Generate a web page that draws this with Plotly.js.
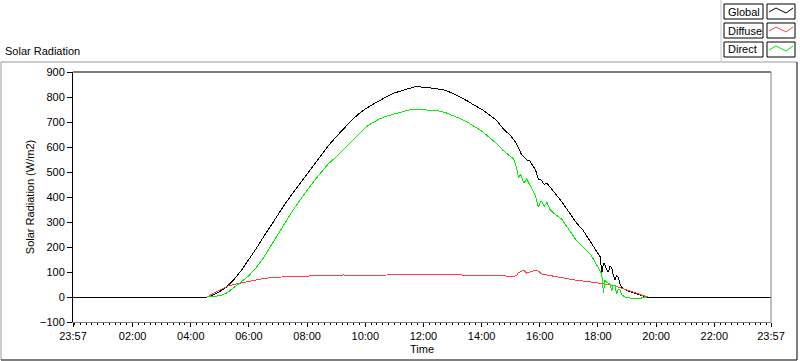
<!DOCTYPE html>
<html>
<head>
<meta charset="utf-8">
<script src="https://cdn.plot.ly/plotly-3.0.1.min.js"></script>
<style>
  html, body { margin: 0; padding: 0; background: #ffffff; }
  #chart { width: 800px; height: 361px; }
  #chart .scatterlayer path.js-line { shape-rendering: crispEdges; }
</style>
</head>
<body>
<div id="chart"></div>
<script>
// ---- Data (time in decimal hours; 23:57 of previous day = -0.05) ----
const globalTimes = [-0.05, 4.55];
const dayTimes = [4.55, 4.75, 5.0, 5.25, 5.5, 5.75, 6.0, 6.25, 6.5, 6.75, 7.0, 7.25, 7.5, 7.75,
  8.0, 8.25, 8.5, 8.75, 9.0, 9.25, 9.5, 9.75, 10.0, 10.25, 10.5, 10.75, 11.0, 11.25, 11.5, 11.75,
  12.0, 12.25, 12.5, 12.75, 13.0, 13.25, 13.5, 13.75, 14.0, 14.25, 14.5, 14.75, 15.0,
  15.1, 15.2, 15.27, 15.35, 15.45, 15.55, 15.65, 15.75, 15.85, 15.95, 16.05, 16.15, 16.25, 16.35,
  16.5, 16.75, 17.0, 17.25, 17.5, 17.75, 18.0, 18.08, 18.13, 18.19, 18.24, 18.3, 18.36, 18.41,
  18.47, 18.53, 18.59, 18.64, 18.7, 18.76, 18.81, 18.87, 18.95, 19.1, 19.3, 19.5, 19.7];
const nightEndTimes = [19.7, 23.95];

const globalDay = [0, 8, 22, 42, 72, 108, 150, 194, 240, 286, 331, 374, 414, 453,
  490, 527, 568, 608, 641, 673, 703, 730, 752, 770, 787, 802, 816, 826, 834, 842,
  840, 836, 832, 827, 815, 801, 785, 767, 751, 730, 708, 672, 645,
  630, 613, 595, 575, 560, 548, 545, 528, 510, 470, 468, 450, 455, 440,
  418, 382, 340, 298, 265, 222, 178, 160, 95, 135, 130, 110, 100, 122,
  118, 85, 68, 85, 80, 50, 40, 35, 28, 22, 13, 6, 0];
const diffuseDay = [0, 12, 30, 43, 51, 57, 63, 69, 74, 77, 80, 81, 82, 83,
  84, 85, 86, 87, 87, 88, 85, 84, 85, 87, 87, 88, 89, 89, 90, 90,
  91, 90, 89, 88, 89, 88, 87, 87, 87, 86, 85, 84, 84,
  83, 86, 98, 102, 108, 95, 100, 102, 108, 104, 93, 90, 88, 86,
  83, 78, 70, 67, 64, 61, 57, 55, 54, 53, 52, 50, 49, 48,
  47, 46, 44, 42, 40, 37, 35, 33, 29, 24, 16, 7, 0];
const directDay = [0, 1, 5, 17, 38, 62, 86, 118, 157, 205, 251, 298, 345, 387,
  427, 466, 501, 535, 560, 590, 620, 650, 678, 697, 713, 724, 731, 741, 748, 751,
  750, 749, 745, 738, 727, 714, 700, 683, 664, 640, 615, 585, 562,
  552, 520, 478, 490, 455, 472, 450, 430, 405, 360, 385, 362, 378, 350,
  333, 312, 272, 228, 198, 170, 120, 100, 93, 15, 68, 58, 55, 52,
  25, 48, 45, 12, 30, 28, 10, 5, -2, -4, -4, -4, 0];
const nightValues = [0, 0];

const seriesNames = ['Global', 'Diffuse', 'Direct'];
const seriesColors = ['#000000', '#ff4040', '#00ee00'];

const xTickVals = [-0.05, 2, 4, 6, 8, 10, 12, 14, 16, 18, 20, 22, 23.95];
const xTickText = ['23:57', '02:00', '04:00', '06:00', '08:00', '10:00', '12:00', '14:00',
  '16:00', '18:00', '20:00', '22:00', '23:57'];

// ---- Build traces ----
const globalX = globalTimes.concat(dayTimes.slice(1), nightEndTimes.slice(1));
const globalY = nightValues.slice(0, 1).concat(globalDay, nightValues.slice(1));

const traces = [
  { x: globalX, y: globalY, name: seriesNames[0], mode: 'lines',
    line: { color: seriesColors[0], width: 1 } },
  { x: dayTimes, y: diffuseDay, name: seriesNames[1], mode: 'lines',
    line: { color: seriesColors[1], width: 1 } },
  { x: dayTimes, y: directDay, name: seriesNames[2], mode: 'lines',
    line: { color: seriesColors[2], width: 1 } }
];

// ---- Geometry helpers (pixel -> paper) ----
const L = 73, R = 29, T = 72, B = 39, W = 800 - L - R, H = 361 - T - B;
const px = v => (v - L) / W;
const py = v => (T + H - v) / H;

const FONT = 'Liberation Sans, Arial, sans-serif';

const shapes = [
  // outer sunken frame
  { type: 'line', xref: 'paper', yref: 'paper', x0: px(1), x1: px(797), y0: py(62), y1: py(62), line: { color: '#9a9a9a', width: 1 } },
  { type: 'line', xref: 'paper', yref: 'paper', x0: px(1), x1: px(1), y0: py(62), y1: py(360), line: { color: '#9a9a9a', width: 1 } },
  { type: 'line', xref: 'paper', yref: 'paper', x0: px(1), x1: px(797), y0: py(360), y1: py(360), line: { color: '#000000', width: 1 } },
  { type: 'line', xref: 'paper', yref: 'paper', x0: px(797), x1: px(797), y0: py(62), y1: py(360), line: { color: '#000000', width: 1 } },
  // legend panel edge
  { type: 'line', xref: 'paper', yref: 'paper', x0: px(721), x1: px(721), y0: py(0), y1: py(62), line: { color: '#c8c8c8', width: 1 } },
  // plot top (black) and right (gray)
  { type: 'line', xref: 'paper', yref: 'paper', x0: 0, x1: 1, y0: 1, y1: 1, line: { color: '#000000', width: 1 } },
  { type: 'line', xref: 'paper', yref: 'paper', x0: 1, x1: 1, y0: 0, y1: 1, line: { color: '#808080', width: 1 } }
];

const annotations = [];
const rowTops = [4, 23, 42];
seriesNames.forEach((name, i) => {
  const top = rowTops[i], bot = top + 15;
  shapes.push({ type: 'rect', xref: 'paper', yref: 'paper', x0: px(724), x1: px(763), y0: py(bot), y1: py(top),
    line: { color: '#000000', width: 1 }, fillcolor: '#ffffff' });
  shapes.push({ type: 'rect', xref: 'paper', yref: 'paper', x0: px(767), x1: px(795), y0: py(bot), y1: py(top),
    line: { color: '#000000', width: 1 }, fillcolor: '#ffffff' });
  // small zigzag sample line
  const pts = [[769, top + 8], [776, top + 4], [786, top + 9], [793, top + 4]];
  const path = 'M ' + pts.map(p => px(p[0]) + ',' + py(p[1])).join(' L ');
  shapes.push({ type: 'path', xref: 'paper', yref: 'paper', path: path,
    line: { color: seriesColors[i], width: 1 } });
  annotations.push({ xref: 'paper', yref: 'paper', x: px(726), y: py(top + 7.5), xanchor: 'left', yanchor: 'middle',
    text: name, showarrow: false, font: { family: FONT, size: 11, color: '#000000' } });
});

const layout = {
  width: 800, height: 361,
  margin: { l: L, r: R, t: T, b: B, pad: 0 },
  paper_bgcolor: '#ffffff', plot_bgcolor: '#ffffff',
  showlegend: false,
  font: { family: FONT, size: 11, color: '#000000' },
  title: { text: 'Solar Radiation', x: 5 / 800, xref: 'container', xanchor: 'left',
    y: 1 - 51 / 361, yref: 'container', yanchor: 'middle', font: { family: FONT, size: 11, color: '#000000' } },
  xaxis: {
    range: [-0.05, 23.95], tickmode: 'array', tickvals: xTickVals, ticktext: xTickText,
    ticks: 'outside', ticklen: 4, tickcolor: '#000000', tickwidth: 1,
    showline: true, linecolor: '#808080', linewidth: 1, showgrid: false, zeroline: false,
    minor: { dtick: 0.2, tick0: 0, ticks: 'outside', ticklen: 2, tickcolor: '#000000', showgrid: false },
    tickfont: { family: FONT, size: 11, color: '#000000' },
    title: { text: 'Time', standoff: 4, font: { family: FONT, size: 11, color: '#000000' } },
    automargin: false, fixedrange: true
  },
  yaxis: {
    range: [-100, 900], dtick: 100, tick0: 0,
    ticks: 'outside', ticklen: 5, tickcolor: '#000000', tickwidth: 1,
    showline: true, linecolor: '#000000', linewidth: 1, showgrid: false, zeroline: false,
    tickfont: { family: FONT, size: 11, color: '#000000' },
    title: { text: 'Solar Radiation (W/m2)', standoff: 3, font: { family: FONT, size: 11, color: '#000000' } },
    automargin: false, fixedrange: true
  },
  shapes: shapes,
  annotations: annotations
};

Plotly.newPlot('chart', traces, layout, { displayModeBar: false, staticPlot: true });
</script>
</body>
</html>
